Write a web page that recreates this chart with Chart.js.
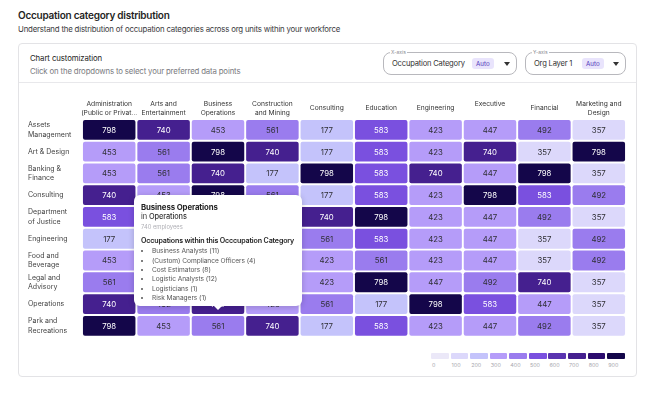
<!DOCTYPE html>
<html>
<head>
<meta charset="utf-8">
<script src="https://cdn.jsdelivr.net/npm/chart.js@4.4.1/dist/chart.umd.min.js"></script>
<style>
  body { margin: 0; width: 655px; height: 399px; background: #fff; position: relative; overflow: hidden;
         font-family: Inter, "Noto Sans", sans-serif; color: #1f1f24; }
  .abs { position: absolute; white-space: nowrap; }
  .title { left: 18px; top: 9px; font-size: 10px; font-weight: 600; letter-spacing: -0.25px; }
  .sub { left: 18px; top: 23.5px; font-size: 7.85px; color: #3a3a40; letter-spacing: -0.2px; }
  .card { left: 18px; top: 43px; width: 619px; height: 334px; border: 1px solid #e3e3e6; border-radius: 4px; box-sizing: border-box; }
  .sep { left: 19px; top: 82px; width: 617px; height: 1px; background: #e8e8eb; }
  .h1 { left: 30px; top: 52.5px; font-size: 7.8px; color: #222; letter-spacing: -0.1px; }
  .h2 { left: 30px; top: 66px; font-size: 7.8px; color: #7a7a80; letter-spacing: -0.15px; }
  .dd { top: 52px; height: 23px; border: 1px solid #b8b8bd; border-radius: 8px; box-sizing: border-box; }
  .dd .lab { position: absolute; left: 6px; top: -4px; font-size: 5px; color: #8a8a90; background: #fff; padding: 0 1px; }
  .dd .val { position: absolute; left: 8px; top: 5.5px; font-size: 7.6px; color: #333; letter-spacing: -0.2px; }
  .dd .auto { position: absolute; top: 5px; height: 11px; line-height: 11px; padding: 0 4px; border-radius: 3px;
              background: #e9e4fc; color: #4e36b8; font-size: 6.2px; }
  .dd .caret { position: absolute; top: 9px; width: 0; height: 0; border-left: 3px solid transparent;
               border-right: 3px solid transparent; border-top: 4px solid #333; }
  #wrap { position: absolute; left: 20px; top: 88px; width: 612px; height: 258px; }
  .legend { left: 431px; top: 353px; display: flex; gap: 1.9px; }
  .legend .sw { width: 17.7px; height: 5.5px; border-radius: 1px; position: relative; }
  .legend .tk { position: absolute; left: 1px; top: 9px; font-size: 5.4px; color: #a8a8ae; }
  #tip { position: absolute; width: 168px; height: 111px; background: #fff; border-radius: 6px; box-sizing: border-box;
         box-shadow: 0 1px 6px rgba(0,0,0,0.18); color: #333; }
  #tip::after { content: ""; position: absolute; left: 79px; bottom: -4px; border-left: 5px solid transparent;
                border-right: 5px solid transparent; border-top: 5px solid #fff; }
  #tip > div, #tip > ul { position: absolute; left: 7px; white-space: nowrap; margin: 0; }
  #tip .t { top: 7px; font-weight: 700; font-size: 7.8px; color: #222; line-height: 10px; letter-spacing: -0.1px; }
  #tip .in { top: 17.3px; line-height: 10px; font-size: 7.4px; color: #333; letter-spacing: -0.1px; }
  #tip .in b { font-weight: 500; }
  #tip .emp { top: 27.7px; font-size: 5.8px; color: #b0b0b6; line-height: 8px; }
  #tip .occ { top: 41.3px; font-weight: 600; font-size: 7.1px; color: #222; line-height: 10px; letter-spacing: -0.15px; }
  #tip ul { top: 52.3px; padding-left: 11px; }
  #tip li { line-height: 9.33px; color: #555; font-size: 6.6px; letter-spacing: -0.05px; }
</style>
</head>
<body>
<div class="abs title">Occupation category distribution</div>
<div class="abs sub">Understand the distribution of occupation categories across org units within your workforce</div>
<div class="abs card"></div>
<div class="abs sep"></div>
<div class="abs h1">Chart customization</div>
<div class="abs h2">Click on the dropdowns to select your preferred data points</div>
<div class="abs dd" style="left:383px; width:134px;">
  <span class="lab">X-axis</span><span class="val">Occupation Category</span>
  <span class="auto" style="left:88px;">Auto</span><span class="caret" style="left:120px;"></span>
</div>
<div class="abs dd" style="left:525px; width:101px;">
  <span class="lab">Y-axis</span><span class="val">Org Layer 1</span>
  <span class="auto" style="left:56px;">Auto</span><span class="caret" style="left:87px;"></span>
</div>
<div id="wrap"><canvas id="heat" width="612" height="258"></canvas></div>
<div class="abs legend" id="legend"></div>
<div id="tip"></div>

<script>
// org units (y) and occupation categories (x)
const rowNames = [['Assets', 'Management'], 'Art & Design', ['Banking &', 'Finance'], 'Consulting',
  ['Department', 'of Justice'], 'Engineering', ['Food and', 'Beverage'], ['Legal and', 'Advisory'],
  'Operations', ['Park and', 'Recreations']];
const categories = [['Administration', '(Public or Privat...'], ['Arts and', 'Entertainment'],
  ['Business', 'Operations'], ['Construction', 'and Mining'], 'Consulting', 'Education',
  'Engineering', ['Executive', ''], 'Financial', ['Marketing and', 'Design']];

// employees per cell, one list per org unit
const counts = [
  [798, 740, 453, 561, 177, 583, 423, 447, 492, 357],
  [453, 561, 798, 740, 177, 583, 423, 740, 357, 798],
  [453, 561, 740, 177, 798, 583, 740, 447, 798, 357],
  [740, 453, 798, 561, 177, 583, 423, 798, 583, 492],
  [583, 447, 561, 423, 740, 798, 423, 447, 492, 357],
  [177, 492, 740, 583, 561, 583, 423, 447, 357, 492],
  [453, 423, 357, 447, 423, 561, 423, 447, 357, 492],
  [561, 740, 453, 798, 423, 798, 447, 492, 740, 357],
  [740, 492, 740, 423, 561, 177, 798, 583, 447, 357],
  [798, 453, 561, 740, 177, 583, 423, 447, 492, 357]
];

const legendTicks = [0, 100, 200, 300, 400, 500, 600, 700, 800, 900];
const palette = ['#ebe8f8', '#dcd8fb', '#c4c3fb', '#b59cf9', '#9a7cee', '#7a50df',
  '#5a34b0', '#45208f', '#2c0c6e', '#14064a'];
// palette step used for each value
const shadeOf = {177: 2, 357: 1, 423: 3, 447: 3, 453: 3, 492: 4, 561: 4, 583: 5, 740: 7, 798: 9};

// tooltip shown in the picture
const tipRow = 8, tipCol = 2;
const tipOccupations = ['Business Analysts (11)', '(Custom) Compliance Officers (4)', 'Cost Estimators (8)',
  'Logistic Analysts (12)', 'Logisticians (1)', 'Risk Managers (1)'];

const flat = l => Array.isArray(l) ? l.filter(Boolean).join(' ') : l;

const cellLabels = {
  id: 'cellLabels',
  afterDatasetsDraw(chart) {
    const ctx = chart.ctx;
    ctx.save();
    ctx.font = '400 7.8px Inter, sans-serif';
    ctx.textAlign = 'center';
    ctx.textBaseline = 'middle';
    counts.forEach((row, r) => {
      chart.getDatasetMeta(r).data.forEach((bar, j) => {
        const v = row[j];
        ctx.fillStyle = shadeOf[v] >= 5 ? '#ffffff' : '#2f2f35';
        ctx.fillText(String(v), bar.x, (bar.y + bar.base) / 2 + 0.5);
      });
    });
    ctx.restore();
  }
};

const chart = new Chart(document.getElementById('heat'), {
  type: 'bar',
  data: {
    labels: categories,
    datasets: counts.map((row, r) => ({
      label: flat(rowNames[r]),
      data: row.map(() => [r + 0.045, r + 0.955]),
      backgroundColor: row.map(v => palette[shadeOf[v]]),
      borderRadius: 2,
      borderSkipped: false,
      grouped: false,
      barPercentage: 0.965,
      categoryPercentage: 1
    }))
  },
  options: {
    responsive: false,
    animation: false,
    layout: { padding: { left: 8, right: 6, top: 0, bottom: 5 } },
    plugins: { legend: { display: false }, tooltip: { enabled: false } },
    scales: {
      x: {
        position: 'top',
        grid: { display: false, drawTicks: false },
        border: { display: false },
        ticks: { color: '#333', font: { family: 'Inter', size: 6.7, lineHeight: 1.4 }, padding: 6,
                 crossAlign: 'center', maxRotation: 0, autoSkip: false },
        afterFit: s => { s.height = 31; }
      },
      y: {
        min: 0, max: rowNames.length, reverse: true,
        grid: { display: false, drawTicks: false },
        border: { display: false },
        afterBuildTicks: s => { s.ticks = rowNames.map((_, i) => ({ value: i + 0.5 })); },
        ticks: { color: '#444', font: { family: 'Inter', size: 7, lineHeight: 1.33 }, crossAlign: 'far',
                 padding: 0, autoSkip: false, callback: (v, i) => rowNames[i] },
        afterFit: s => { s.width = 54; }
      }
    }
  },
  plugins: [cellLabels]
});

// legend
const legend = document.getElementById('legend');
legendTicks.forEach((t, i) => {
  const sw = document.createElement('div');
  sw.className = 'sw';
  sw.style.background = palette[i];
  const tk = document.createElement('span');
  tk.className = 'tk';
  tk.textContent = t;
  sw.appendChild(tk);
  legend.appendChild(sw);
});

// tooltip anchored to the hovered cell
const bar = chart.getDatasetMeta(tipRow).data[tipCol];
const tip = document.getElementById('tip');
tip.innerHTML =
  '<div class="t">' + flat(categories[tipCol]) + '</div>' +
  '<div class="in">in <b>' + flat(rowNames[tipRow]) + '</b></div>' +
  '<div class="emp">' + counts[tipRow][tipCol] + ' employees</div>' +
  '<div class="occ">Occupations within this Occcupation Category</div>' +
  '<ul>' + tipOccupations.map(o => '<li>' + o + '</li>').join('') + '</ul>';
const cy = (bar.y + bar.base) / 2;
tip.style.left = (20 + bar.x - 84) + 'px';
tip.style.top = (88 + cy - 109) + 'px';
</script>
</body>
</html>
